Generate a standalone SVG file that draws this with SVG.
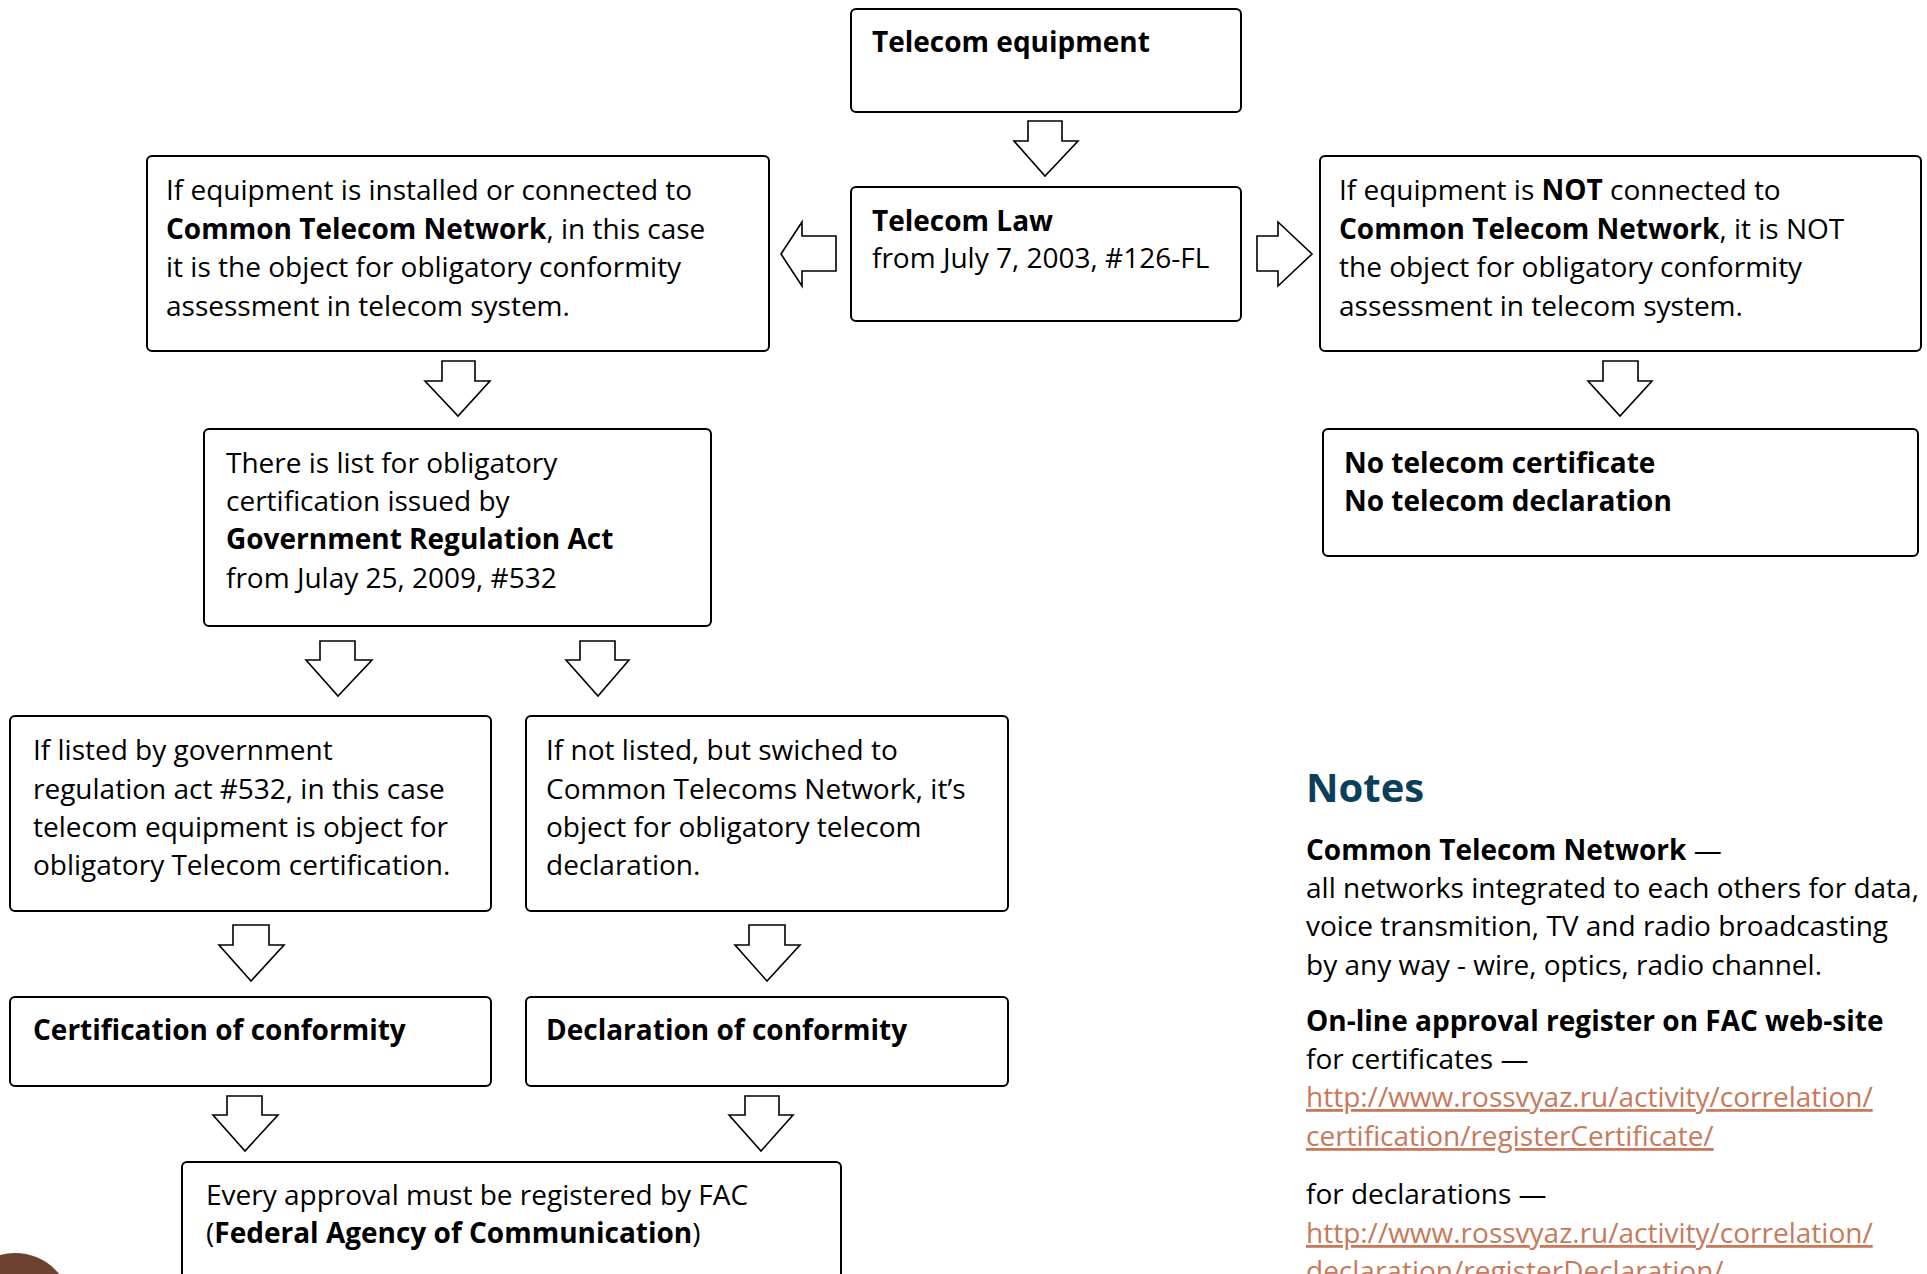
<svg xmlns="http://www.w3.org/2000/svg" width="1927" height="1274" viewBox="0 0 1927 1274">
<style>
.box{fill:#fff;stroke:#000;stroke-width:2}
.arr{fill:#fff;stroke:#000;stroke-width:1.6;stroke-linejoin:miter}
text{font-family:"Open Sans","Noto Sans","Liberation Sans",sans-serif;font-size:28px;fill:#000}
.b{font-weight:bold}
.notes{font-size:40px;font-weight:bold;fill:#0b3f5a}
.url{fill:#c8795a;text-decoration:underline}
</style>
<rect width="1927" height="1274" fill="#fff"/>
<circle cx="15" cy="1310" r="57" fill="#6e4230"/>
<g id="connectors">
<polygon class="arr" points="1028,121 1062,121 1062,141 1078,141 1045,176 1014,141 1028,141"/>
<polygon class="arr" points="836,236 836,271 802,271 802,286 781,254 802,222 802,236"/>
<polygon class="arr" points="1257,236 1257,271 1278,271 1278,286 1312,254 1278,222 1278,236"/>
<polygon class="arr" points="442,361 475,361 475,381 490,381 458,416 425,381 442,381"/>
<polygon class="arr" points="1603,361 1638,361 1638,381 1652,381 1620,416 1588,381 1603,381"/>
<polygon class="arr" points="320,641 355,641 355,660 372,660 338,696 306,660 320,660"/>
<polygon class="arr" points="580,641 615,641 615,660 629,660 598,696 566,660 580,660"/>
<polygon class="arr" points="233,925 269,925 269,945 284,945 251,981 219,945 233,945"/>
<polygon class="arr" points="749,925 785,925 785,945 800,945 767,981 735,945 749,945"/>
<polygon class="arr" points="227,1096 262,1096 262,1115 278,1115 245,1151 213,1115 227,1115"/>
<polygon class="arr" points="745,1096 779,1096 779,1115 793,1115 761,1151 729,1115 745,1115"/>
</g>
<g id="equipment">
<rect class="box" x="851" y="9" width="390" height="103" rx="5"/>
<text x="872" y="52" class="b">Telecom equipment</text>
</g>
<g id="law">
<rect class="box" x="851" y="187" width="390" height="134" rx="5"/>
<text x="872" y="231" class="b">Telecom Law</text>
<text x="872" y="268">from July 7, 2003, #126-FL</text>
</g>
<g id="connected">
<rect class="box" x="147" y="156" width="622" height="195" rx="5"/>
<text x="166" y="200">If equipment is installed or connected to</text>
<text x="166" y="239"><tspan class="b">Common Telecom Network</tspan>, in this case</text>
<text x="166" y="277">it is the object for obligatory conformity</text>
<text x="166" y="316">assessment in telecom system.</text>
</g>
<g id="not-connected">
<rect class="box" x="1320" y="156" width="601" height="195" rx="5"/>
<text x="1339" y="200">If equipment is <tspan class="b">NOT</tspan> connected to</text>
<text x="1339" y="239"><tspan class="b">Common Telecom Network</tspan>, it is NOT</text>
<text x="1339" y="277">the object for obligatory conformity</text>
<text x="1339" y="316">assessment in telecom system.</text>
</g>
<g id="list">
<rect class="box" x="204" y="429" width="507" height="197" rx="5"/>
<text x="226" y="473">There is list for obligatory</text>
<text x="226" y="511">certification issued by</text>
<text x="226" y="549" class="b">Government Regulation Act</text>
<text x="226" y="588">from Julay 25, 2009, #532</text>
</g>
<g id="no-cert">
<rect class="box" x="1323" y="429" width="595" height="127" rx="5"/>
<text x="1344" y="473" class="b">No telecom certificate</text>
<text x="1344" y="511" class="b">No telecom declaration</text>
</g>
<g id="listed">
<rect class="box" x="10" y="716" width="481" height="195" rx="5"/>
<text x="33" y="760">If listed by government</text>
<text x="33" y="799">regulation act #532, in this case</text>
<text x="33" y="837">telecom equipment is object for</text>
<text x="33" y="875">obligatory Telecom certification.</text>
</g>
<g id="not-listed">
<rect class="box" x="526" y="716" width="482" height="195" rx="5"/>
<text x="546" y="760">If not listed, but swiched to</text>
<text x="546" y="799">Common Telecoms Network, it’s</text>
<text x="546" y="837">object for obligatory telecom</text>
<text x="546" y="875">declaration.</text>
</g>
<g id="certification">
<rect class="box" x="10" y="997" width="481" height="89" rx="5"/>
<text x="33" y="1040" class="b">Certification of conformity</text>
</g>
<g id="declaration">
<rect class="box" x="526" y="997" width="482" height="89" rx="5"/>
<text x="546" y="1040" class="b">Declaration of conformity</text>
</g>
<g id="register">
<rect class="box" x="182" y="1162" width="659" height="140" rx="5"/>
<text x="206" y="1205">Every approval must be registered by FAC</text>
<text x="206" y="1243">(<tspan class="b">Federal Agency of Communication</tspan>)</text>
</g>
<g id="notes">
<text x="1306" y="802" class="notes">Notes</text>
<text x="1306" y="860"><tspan class="b">Common Telecom Network</tspan> —</text>
<text x="1306" y="898">all networks integrated to each others for data,</text>
<text x="1306" y="936">voice transmition, TV and radio broadcasting</text>
<text x="1306" y="975">by any way - wire, optics, radio channel.</text>
<text x="1306" y="1031" class="b">On-line approval register on FAC web-site</text>
<text x="1306" y="1069">for certificates —</text>
<text x="1306" y="1107" class="url">http://www.rossvyaz.ru/activity/correlation/</text>
<text x="1306" y="1146" class="url">certification/registerCertificate/</text>
<text x="1306" y="1204">for declarations —</text>
<text x="1306" y="1243" class="url">http://www.rossvyaz.ru/activity/correlation/</text>
<text x="1306" y="1281" class="url">declaration/registerDeclaration/</text>
</g>
</svg>
